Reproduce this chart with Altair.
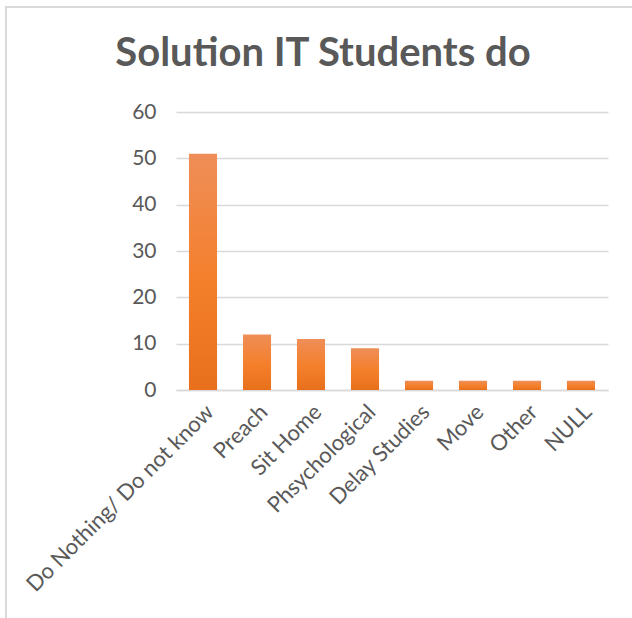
import altair as alt
import pandas as pd

categories = ["Do Nothing/ Do not know", "Preach", "Sit Home", "Phsychological",
              "Delay Studies", "Move", "Other", "NULL"]
values = [51, 12, 11, 9, 2, 2, 2, 2]
y_ticks = [0, 10, 20, 30, 40, 50, 60]
title_text = ["Solution IT Students do"]

df = pd.DataFrame({"category": categories, "value": values})

FONT = "Lato"
GRAY = "#595959"

gradient = alt.Gradient(
    gradient="linear", x1=0, y1=0, x2=0, y2=1,
    stops=[alt.GradientStop(color="#EF8E58", offset=0),
           alt.GradientStop(color="#F47F2A", offset=0.55),
           alt.GradientStop(color="#E8701C", offset=1)],
)

frame = alt.Chart(pd.DataFrame({"a": [0]})).mark_rect(
    fill=None, stroke="#d9d9d9", strokeWidth=2
).encode(
    x=alt.value(-170), x2=alt.value(520), y=alt.value(-105), y2=alt.value(600)
)

title = alt.Chart(pd.DataFrame({"t": title_text})).mark_text(
    font=FONT, fontSize=40, fontWeight="bold", color=GRAY,
    align="center", baseline="alphabetic"
).encode(text="t:N", x=alt.value(147), y=alt.value(-46))

bars = alt.Chart(df).mark_bar(color=gradient).encode(
    x=alt.X("category:N", sort=categories, title=None,
            scale=alt.Scale(paddingInner=0.48, paddingOuter=0.24),
            axis=alt.Axis(labelAngle=-45, labelFont=FONT, labelFontSize=22,
                          labelColor=GRAY, ticks=False, domainColor="#d9d9d9",
                          domainWidth=1.5, labelPadding=11, labelLimit=400)),
    y=alt.Y("value:Q", title=None,
            scale=alt.Scale(domain=[0, 60]),
            axis=alt.Axis(values=y_ticks, labelFont=FONT, labelFontSize=21,
                          labelColor=GRAY, ticks=False, domain=False,
                          gridColor="#d9d9d9", gridWidth=1.5, labelPadding=20)),
)

chart = alt.layer(frame, title, bars).properties(
    width=432, height=278,
    padding={"left": 176, "top": 112, "right": 24, "bottom": 228},
    autosize=alt.AutoSizeParams(type="none"),
).configure_view(stroke=None)

chart.save("out.html", embed_options={"renderer": "svg", "actions": False})
